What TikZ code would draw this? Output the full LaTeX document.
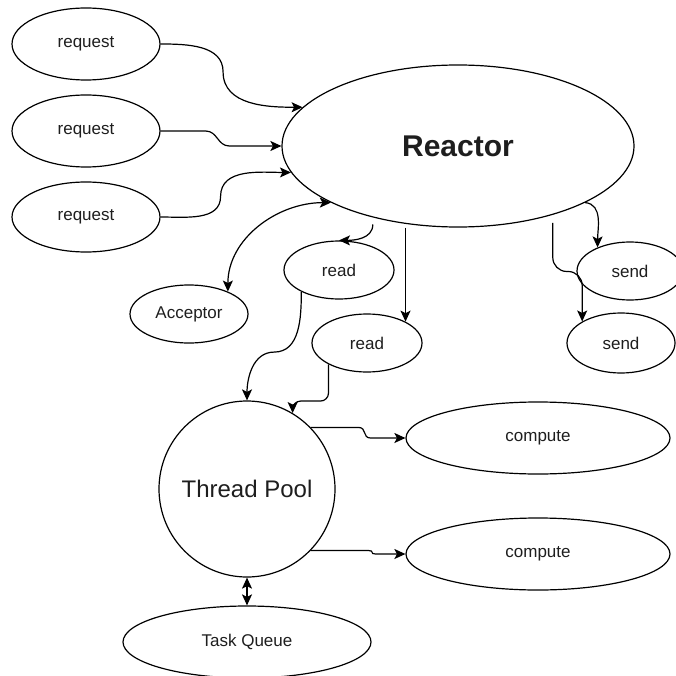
\documentclass[tikz,border=0pt]{standalone}
\usepackage{fontspec}
\setmainfont{Liberation Sans}
\usetikzlibrary{shapes.geometric,arrows.meta,calc}
\definecolor{txt}{RGB}{30,30,30}
\begin{document}
\begin{tikzpicture}[x=1pt,y=-1pt,
  ah/.tip={Stealth[length=11pt,width=10pt,inset=2.5pt]},
  ell/.style={draw=black, line width=1.2pt, ellipse, inner sep=0pt, text=txt,
    font=\fontsize{17}{20}\selectfont},
  arr/.style={draw=black, line width=1.2pt, -ah},
  darr/.style={draw=black, line width=1.2pt, ah-ah}]
\clip (0,0) rectangle (676,676);
\fill[white] (0,0) rectangle (676,676);
% nodes
\node[ell, minimum width=148pt, minimum height=72pt] (req1) at (86,44) {request};
\node[ell, minimum width=148pt, minimum height=72pt] (req2) at (86,131) {request};
\node[ell, minimum width=148pt, minimum height=70pt] (req3) at (86,217) {request};
\node[ell, minimum width=352pt, minimum height=162pt,
  font=\fontsize{30}{34}\selectfont\bfseries] (reactor) at (458,146) {Reactor};
\node[ell, minimum width=118pt, minimum height=58pt] (acceptor) at (189,314) {Acceptor};
\node[ell, minimum width=110pt, minimum height=58pt] (read1) at (339,270) {read};
\node[ell, minimum width=110pt, minimum height=58pt] (read2) at (367,343) {read};
\node[ell, minimum width=106pt, minimum height=58pt] (send1) at (630,271) {send};
\node[ell, minimum width=108pt, minimum height=60pt] (send2) at (621,343) {send};
\node[ell, circle, minimum size=176pt, font=\fontsize{24}{28}\selectfont] (pool) at (247,489) {Thread Pool};
\node[ell, minimum width=264pt, minimum height=72pt] (comp1) at (538,438) {compute};
\node[ell, minimum width=264pt, minimum height=72pt] (comp2) at (538,554) {compute};
\node[ell, minimum width=248pt, minimum height=72pt] (queue) at (247,642) {Task Queue};
% requests -> reactor
\draw[arr] (req1.east) to[out=0,in=90] ($(req1.east)!0.44!(reactor.166)$)
  to[out=-90,in=180] (reactor.166);
\draw[arr] (req2.east) -- ++(45,0) .. controls +(12,0) and +(-12,0) ..
  ($(reactor.180)+(-52,0)$) -- (reactor.180);
\draw[arr] (req3.east) to[out=0,in=-90] ($(req3.east)!0.46!(reactor.189)$)
  to[out=90,in=180] (reactor.189);
% acceptor
\draw[darr] (acceptor.30) to[out=90,in=180] (reactor.204);
% reactor -> reads
\draw[arr] ([yshift=-7pt]reactor.220) to[out=-90,in=0] (read1.north);
\draw[arr] (read2.29 |- reactor.south) -- (read2.29);
% reads -> pool
\draw[arr] (read1.210) to[out=-90,in=0] ($(read1.210)!0.5!(pool.north)+(0,6)$)
  to[out=180,in=90] (pool.north);
\draw[arr, rounded corners=8pt] (read2.209) |- ($(pool.59)+(0,-12)$) -- (pool.59);
% reactor -> sends
\draw[arr] (reactor.-24) to[out=-5,in=90] (send1.144);
\draw[arr, rounded corners=14pt] ([yshift=-8pt]reactor.-36) |- ($(send2.151)+(0,-50)$) -- (send2.151);
% pool -> computes
\draw[arr] (pool.44) -- ++(48,0) .. controls +(8,0) and +(-8,0) .. ($(comp1.west)+(-35,0)$) -- (comp1.west);
\draw[arr] (pool.-44) -- ++(58,0) .. controls +(6,0) and +(-6,0) .. ($(comp2.west)+(-30,0)$) -- (comp2.west);
% pool <-> queue
\draw[darr] (pool.south) -- (queue.north);
\end{tikzpicture}
\end{document}
